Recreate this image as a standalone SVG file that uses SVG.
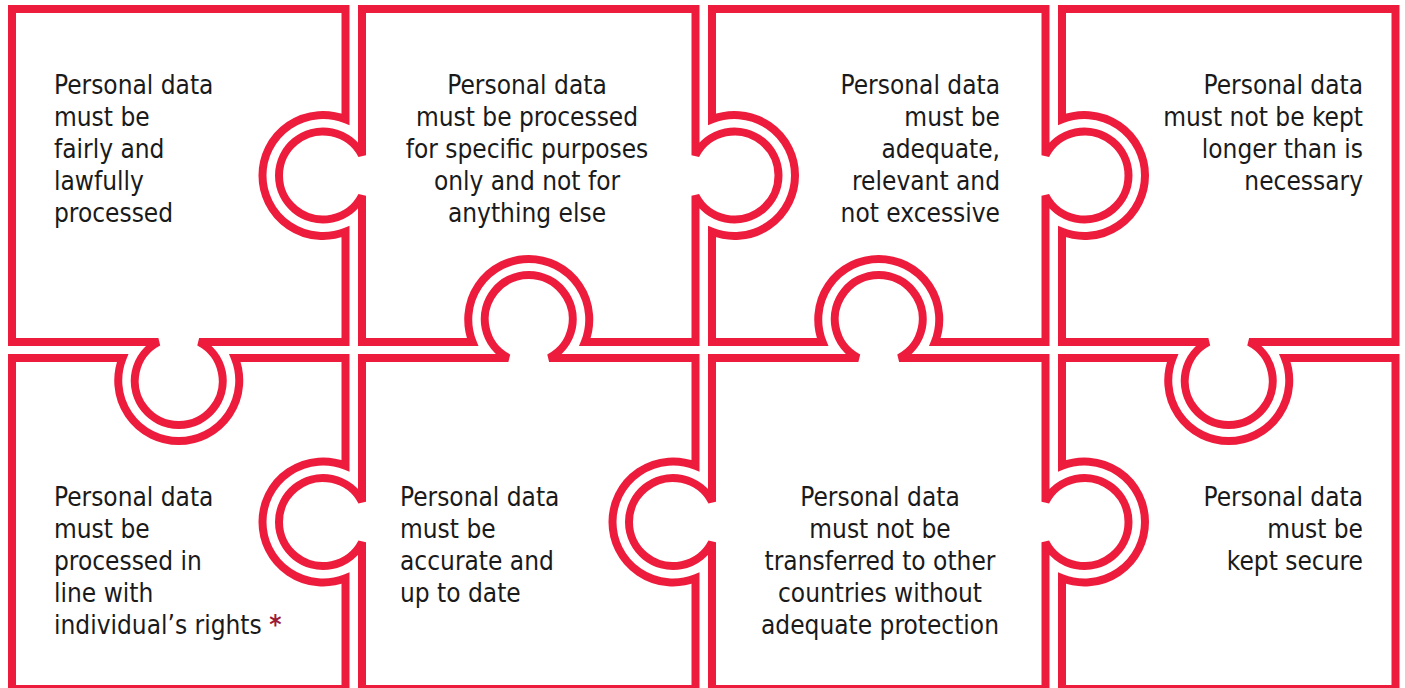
<svg xmlns="http://www.w3.org/2000/svg" width="1405" height="688" viewBox="0 0 1405 688">
<style>
.p{fill:#fff;stroke:#ED1C3D;stroke-width:8;stroke-linejoin:miter}
text{font-family:"DejaVu Sans Condensed","DejaVu Sans","Liberation Sans",sans-serif;font-stretch:condensed;font-size:26px;fill:#1a1a1a}
.m{text-anchor:middle}.e{text-anchor:end}
.ast{fill:#9B1B35;font-weight:bold}
</style>
<rect width="1405" height="688" fill="#fff"/>
<g id="piece1">
<path class="p" d="M12,9 H345.5 V119.34 A60.5,60.5 0 1 0 345.5,231.66 V342 H199.12 A44,44 0 1 1 158.38,342 H12 Z"/>
<text x="54" y="94">Personal data</text><text x="54" y="126">must be</text><text x="54" y="158">fairly and</text><text x="54" y="190">lawfully</text><text x="54" y="222">processed</text>
</g>
<g id="piece2">
<path class="p" d="M362,9 H695.5 V155.13 A44,44 0 1 1 695.5,195.87 V342 H584.91 A60.5,60.5 0 1 0 472.59,342 H362 V195.87 A44,44 0 1 1 362,155.13 Z"/>
<text class="m" x="527" y="94">Personal data</text><text class="m" x="527" y="126">must be processed</text><text class="m" x="527" y="158">for specific purposes</text><text class="m" x="527" y="190">only and not for</text><text class="m" x="527" y="222">anything else</text>
</g>
<g id="piece3">
<path class="p" d="M712,9 H1045.5 V155.13 A44,44 0 1 1 1045.5,195.87 V342 H934.91 A60.5,60.5 0 1 0 822.59,342 H712 V231.66 A60.5,60.5 0 1 0 712,119.34 Z"/>
<text class="e" x="1000" y="94">Personal data</text><text class="e" x="1000" y="126">must be</text><text class="e" x="1000" y="158">adequate,</text><text class="e" x="1000" y="190">relevant and</text><text class="e" x="1000" y="222">not excessive</text>
</g>
<g id="piece4">
<path class="p" d="M1062,9 H1395.5 V342 H1249.12 A44,44 0 1 1 1208.38,342 H1062 V231.66 A60.5,60.5 0 1 0 1062,119.34 Z"/>
<text class="e" x="1363" y="94">Personal data</text><text class="e" x="1363" y="126">must not be kept</text><text class="e" x="1363" y="158">longer than is</text><text class="e" x="1363" y="190">necessary</text>
</g>
<g id="piece5">
<path class="p" d="M12,358 H122.59 A60.5,60.5 0 1 0 234.91,358 H345.5 V465.84 A60.5,60.5 0 1 0 345.5,578.16 V689 H12 Z"/>
<text x="54" y="506">Personal data</text><text x="54" y="538">must be</text><text x="54" y="570">processed in</text><text x="54" y="602">line with</text><text x="54" y="634">individual’s rights <tspan class="ast">*</tspan></text>
</g>
<g id="piece6">
<path class="p" d="M362,358 H508.38 A44,44 0 1 1 549.12,358 H695.5 V465.84 A60.5,60.5 0 1 0 695.5,578.16 V689 H362 V542.37 A44,44 0 1 1 362,501.63 Z"/>
<text x="400" y="506">Personal data</text><text x="400" y="538">must be</text><text x="400" y="570">accurate and</text><text x="400" y="602">up to date</text>
</g>
<g id="piece7">
<path class="p" d="M712,358 H858.38 A44,44 0 1 1 899.12,358 H1045.5 V501.63 A44,44 0 1 1 1045.5,542.37 V689 H712 V542.37 A44,44 0 1 1 712,501.63 Z"/>
<text class="m" x="880" y="506">Personal data</text><text class="m" x="880" y="538">must not be</text><text class="m" x="880" y="570">transferred to other</text><text class="m" x="880" y="602">countries without</text><text class="m" x="880" y="634">adequate protection</text>
</g>
<g id="piece8">
<path class="p" d="M1062,358 H1172.59 A60.5,60.5 0 1 0 1284.91,358 H1395.5 V689 H1062 V578.16 A60.5,60.5 0 1 0 1062,465.84 Z"/>
<text class="e" x="1363" y="506">Personal data</text><text class="e" x="1363" y="538">must be</text><text class="e" x="1363" y="570">kept secure</text>
</g>
<g id="connectors"/>
</svg>
